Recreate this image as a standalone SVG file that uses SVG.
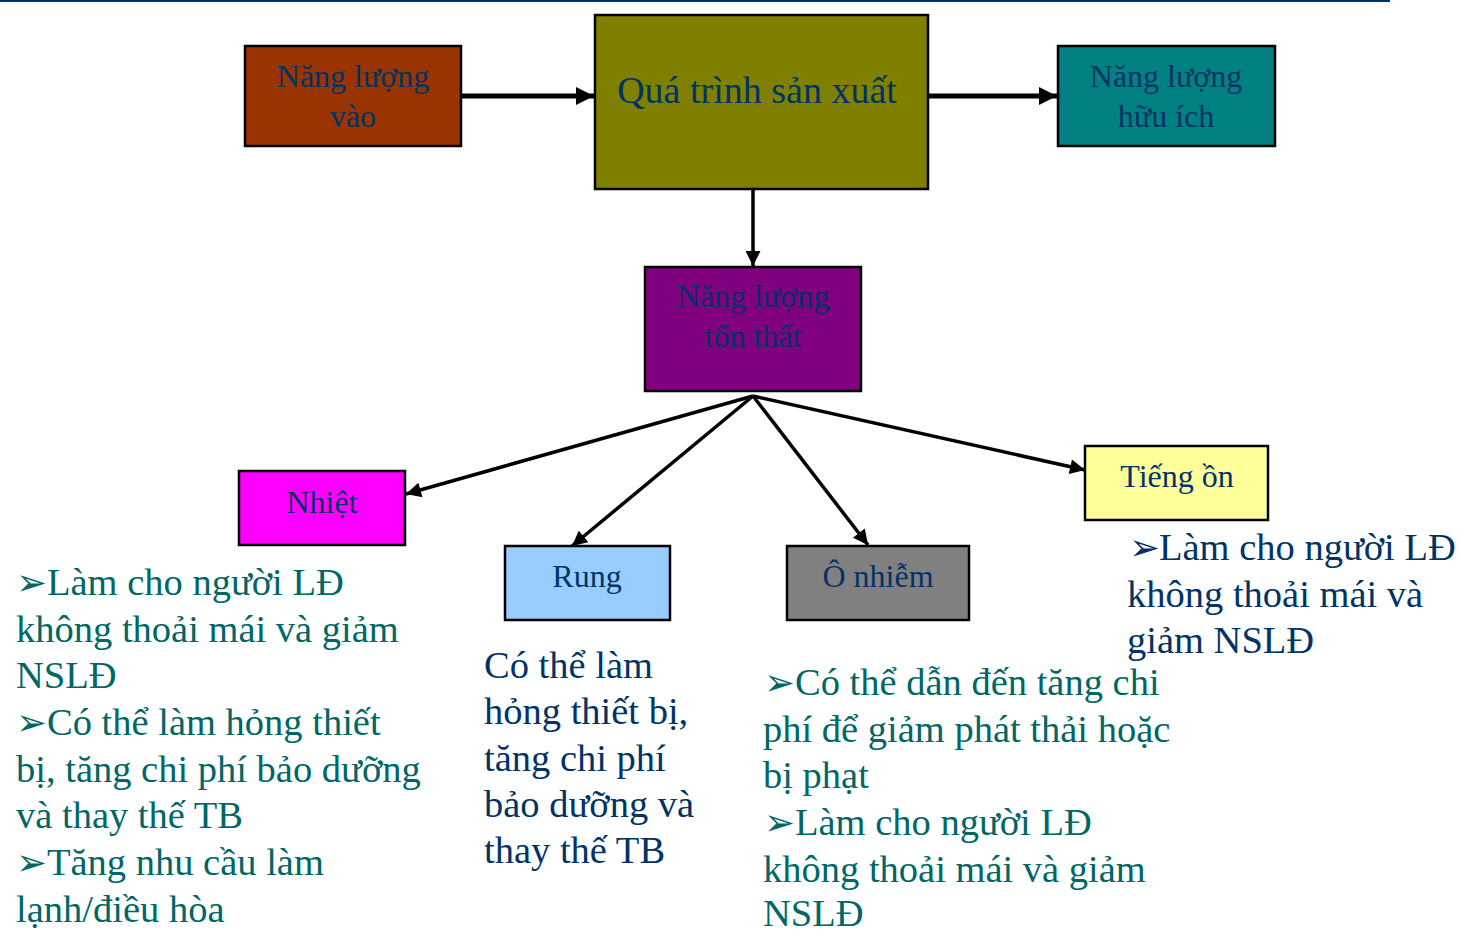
<svg xmlns="http://www.w3.org/2000/svg" width="1459" height="930" viewBox="0 0 1459 930">
<defs>
<style>
.box{stroke:#000;stroke-width:2.5}
.lbl{font-family:"Liberation Serif","Times New Roman",serif;font-size:32px;fill:#003366;text-anchor:middle}
.big{font-size:38px}
.body{font-family:"Liberation Serif","Times New Roman",serif;font-size:38.5px}
.teal{fill:#006666}
.navy{fill:#003366}
.bul{font-family:"DejaVu Sans",sans-serif;font-size:37px}
.conn{stroke:#000;fill:none}
</style>
<marker id="ah" viewBox="0 0 10 10" refX="10" refY="5" markerWidth="20" markerHeight="18" markerUnits="userSpaceOnUse" orient="auto">
<path d="M0,0 L10,5 L0,10 z" fill="#000"/>
</marker>
<marker id="ahs" viewBox="0 0 10 10" refX="10" refY="5" markerWidth="19" markerHeight="15" markerUnits="userSpaceOnUse" orient="auto">
<path d="M0,0 L10,5 L0,10 z" fill="#000"/>
</marker>
</defs>
<rect width="1459" height="930" fill="#fff"/>
<line x1="0" y1="1" x2="1390" y2="1" stroke="#003366" stroke-width="2"/>

<g id="connectors">
<line class="conn" x1="461" y1="96" x2="594" y2="96" stroke-width="5" marker-end="url(#ah)"/>
<line class="conn" x1="928" y1="96" x2="1057" y2="96" stroke-width="5" marker-end="url(#ah)"/>
<line class="conn" x1="753" y1="189" x2="753" y2="266" stroke-width="3.5" marker-end="url(#ahs)"/>
<line class="conn" x1="753" y1="396" x2="406" y2="494" stroke-width="3.5" marker-end="url(#ahs)"/>
<line class="conn" x1="753" y1="396" x2="572" y2="546" stroke-width="3.5" marker-end="url(#ahs)"/>
<line class="conn" x1="753" y1="396" x2="868" y2="545" stroke-width="3.5" marker-end="url(#ahs)"/>
<line class="conn" x1="753" y1="396" x2="1085" y2="470" stroke-width="3.5" marker-end="url(#ahs)"/>
</g>

<g id="nang-luong-vao">
<rect class="box" x="245" y="46" width="216" height="100" fill="#993300"/>
<text class="lbl" x="353" y="87">Năng lượng</text>
<text class="lbl" x="353" y="127">vào</text>
</g>

<g id="qua-trinh-san-xuat">
<rect class="box" x="595" y="15" width="333" height="174" fill="#808000"/>
<text class="lbl big" x="757" y="103">Quá trình sản xuất</text>
</g>

<g id="nang-luong-huu-ich">
<rect class="box" x="1058" y="46" width="217" height="100" fill="#008080"/>
<text class="lbl" x="1166" y="87">Năng lượng</text>
<text class="lbl" x="1166" y="127">hữu ích</text>
</g>

<g id="nang-luong-ton-that">
<rect class="box" x="645" y="267" width="216" height="124" fill="#800080"/>
<text class="lbl" x="753" y="307">Năng lượng</text>
<text class="lbl" x="753" y="347">tổn thất</text>
</g>

<g id="nhiet">
<rect class="box" x="239" y="471" width="166" height="74" fill="#FF00FF"/>
<text class="lbl" x="322" y="513">Nhiệt</text>
</g>

<g id="rung">
<rect class="box" x="505" y="546" width="165" height="74" fill="#99CCFF"/>
<text class="lbl" x="587" y="587">Rung</text>
</g>

<g id="o-nhiem">
<rect class="box" x="787" y="546" width="182" height="74" fill="#808080"/>
<text class="lbl" x="878" y="587">Ô nhiễm</text>
</g>

<g id="tieng-on">
<rect class="box" x="1085" y="446" width="183" height="74" fill="#FFFF99"/>
<text class="lbl" x="1177" y="487">Tiếng ồn</text>
</g>

<g id="nhiet-notes" class="body teal">
<text y="595"><tspan class="bul" x="16">➢</tspan><tspan x="47">Làm cho người LĐ</tspan></text>
<text x="16" y="642">không thoải mái và giảm</text>
<text x="16" y="688">NSLĐ</text>
<text y="735"><tspan class="bul" x="16">➢</tspan><tspan x="47">Có thể làm hỏng thiết</tspan></text>
<text x="16" y="782">bị, tăng chi phí bảo dưỡng</text>
<text x="16" y="828">và thay thế TB</text>
<text y="875"><tspan class="bul" x="16">➢</tspan><tspan x="47">Tăng nhu cầu làm</tspan></text>
<text x="16" y="922">lạnh/điều hòa</text>
</g>

<g id="rung-notes" class="body navy">
<text x="484" y="678">Có thể làm</text>
<text x="484" y="724">hỏng thiết bị,</text>
<text x="484" y="771">tăng chi phí</text>
<text x="484" y="817">bảo dưỡng và</text>
<text x="484" y="863">thay thế TB</text>
</g>

<g id="o-nhiem-notes" class="body teal">
<text y="695"><tspan class="bul" x="764">➢</tspan><tspan x="795">Có thể dẫn đến tăng chi</tspan></text>
<text x="763" y="742">phí để giảm phát thải hoặc</text>
<text x="763" y="788">bị phạt</text>
<text y="835"><tspan class="bul" x="764">➢</tspan><tspan x="795">Làm cho người LĐ</tspan></text>
<text x="763" y="882">không thoải mái và giảm</text>
<text x="763" y="926">NSLĐ</text>
</g>

<g id="tieng-on-notes" class="body navy">
<text y="560"><tspan class="bul" x="1129">➢</tspan><tspan x="1159">Làm cho người LĐ</tspan></text>
<text x="1127" y="607">không thoải mái và</text>
<text x="1127" y="653">giảm NSLĐ</text>
</g>
</svg>
